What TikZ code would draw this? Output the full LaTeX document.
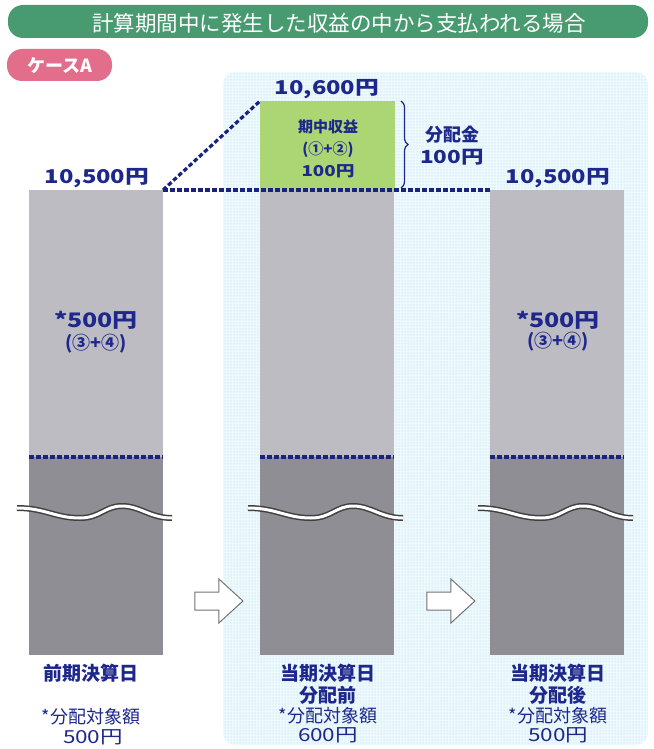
\documentclass[tikz,border=0pt]{standalone}
\usepackage{fontspec}
\setmainfont{Noto Sans CJK JP}
\usetikzlibrary{shapes.arrows,decorations.pathreplacing,patterns}
\definecolor{navy}{RGB}{30,40,140}
\definecolor{dashnavy}{RGB}{25,35,125}
\definecolor{bannergreen}{RGB}{72,155,112}
\definecolor{pillpink}{RGB}{226,110,140}
\definecolor{panelblue}{RGB}{234,250,253}
\definecolor{paneldot}{RGB}{205,200,240}
\definecolor{lightbar}{RGB}{188,188,194}
\definecolor{darkbar}{RGB}{142,142,148}
\definecolor{incgreen}{RGB}{172,214,115}
\newcommand\widen[1]{\scalebox{1.25}[1]{#1}}
\newcommand\fsz[1]{\fontsize{#1}{#1}\selectfont}
\begin{document}
\begin{tikzpicture}[x=1pt,y=-1pt,
  every node/.style={inner sep=0pt,outer sep=0pt},
  lightpart/.style={rectangle,fill=lightbar,anchor=north west,minimum width=134pt},
  darkpart/.style={rectangle,fill=darkbar,anchor=north west,minimum width=134pt},
  navytext/.style={text=navy,font=\fsz{19}\bfseries},
  smalltext/.style={text=navy,font=\fsz{18}},
  navydash/.style={draw=dashnavy,line width=3.2pt,dash pattern=on 4.5pt off 2.5pt},
  breakline/.style={line width=6pt,draw=black!75},
  breakfill/.style={line width=3pt,draw=white},
  hollowarrow/.style={single arrow,draw=black!55,line width=1pt,fill=white,
     minimum height=48pt,minimum width=43pt,inner xsep=0pt,inner ysep=8.5pt,
     single arrow head extend=13pt,single arrow tip angle=85},
]
\useasboundingbox (0,0) rectangle (653,749);
\fill[white] (0,0) rectangle (653,749);

% title banner
\node[rectangle,rounded corners=15pt,fill=bannergreen,minimum width=640pt,minimum height=33pt,anchor=north west] (banner) at (8,5) {};
\node[text=white,font=\fsz{21.5}] (title) at (339,23) {計算期間中に発生した収益の中から支払われる場合};

% case pill
\node[rectangle,rounded corners=15pt,fill=pillpink,minimum width=105pt,minimum height=32pt,anchor=north west] (pill) at (7,49) {};
\node[text=white,font=\fsz{18}\bfseries] (case) at (60,66) {ケースA};

% light blue panel
\node[rectangle,rounded corners=12pt,fill=panelblue,minimum width=425pt,minimum height=673pt,anchor=north west] (panel) at (223,72) {};
\fill[pattern=dots,pattern color=paneldot,rounded corners=12pt] (panel.north west) rectangle (panel.south east);

% bars
\node[lightpart,minimum height=267pt] (Ltop) at (29,190) {};
\node[darkpart,minimum height=198pt] (Lbot) at (Ltop.south west) {};
\node[rectangle,fill=incgreen,anchor=north west,minimum width=135pt,minimum height=89pt] (Minc) at (260,101) {};
\node[lightpart,minimum height=267pt] (Mtop) at (260,190) {};
\node[darkpart,minimum height=198pt] (Mbot) at (Mtop.south west) {};
\node[lightpart,minimum height=267pt] (Rtop) at (490,190) {};
\node[darkpart,minimum height=198pt] (Rbot) at (Rtop.south west) {};

% dashed boundary lines in bars
\draw[navydash] (Lbot.north west) -- (Lbot.north east);
\draw[navydash] (Mbot.north west) -- (Mbot.north east);
\draw[navydash] (Rbot.north west) -- (Rbot.north east);

% wavy breaks
\foreach \dx in {0,231,461}{
  \begin{scope}[xshift=\dx pt]
  \draw[breakline] (17,508) .. controls (45,508) and (55,518) .. (80,518) .. controls (100,518) and (105,506) .. (122,506) .. controls (140,506) and (150,518) .. (172,518);
  \draw[breakfill] (17,508) .. controls (45,508) and (55,518) .. (80,518) .. controls (100,518) and (105,506) .. (122,506) .. controls (140,506) and (150,518) .. (172,518);
  \end{scope}
}

% dashed guide lines
\draw[navydash] (Ltop.north east) -- (Minc.north west);
\draw[navydash] (Ltop.north east) -- (Rtop.north west);

% value labels
\node[navytext] (vL) at (97,178) {\widen{10,500円}};
\node[navytext] (vM) at (327,89) {\widen{10,600円}};
\node[navytext] (vR) at (558,178) {\widen{10,500円}};

% income box text
\node[text=navy,font=\fsz{15}\bfseries] (inc1) at (328,127) {期中収益};
\node[text=navy,font=\fsz{15}\bfseries] (inc2) at (328,150) {(①+②)};
\node[text=navy,font=\fsz{15}\bfseries] (inc3) at (328,171) {\widen{100円}};

% brace
\coordinate (brT) at (401,101);
\coordinate (brB) at (401,188);
\draw[navy,line width=1.2pt,decorate,decoration={brace,amplitude=7pt}] (brT) -- (brB);
\node[navytext,font=\fsz{18}\bfseries] (dist1) at (452,135) {分配金};
\node[navytext,font=\fsz{18}\bfseries] (dist2) at (452,157) {\widen{100円}};

% bar inner labels
\node[text=navy,font=\fsz{20}\bfseries] (aL1) at (96,320) {\widen{*500円}};
\node[text=navy,font=\fsz{18}\bfseries] (aL2) at (96,344) {(③+④)};
\node[text=navy,font=\fsz{20}\bfseries] (aR1) at (558,320) {\widen{*500円}};
\node[text=navy,font=\fsz{18}\bfseries] (aR2) at (558,342) {(③+④)};

% arrows
\node[hollowarrow] (arr1) at (214,601) {};
\node[hollowarrow] (arr2) at (446,601) {};

% bottom labels
\node[navytext] (bL1) at (91,673) {前期決算日};
\node[smalltext] (bL2) at (91,717) {*分配対象額};
\node[smalltext] (bL3) at (93,737) {\widen{500円}};

\node[navytext] (bM1) at (328,673) {当期決算日};
\node[navytext] (bM2) at (328,695) {分配前};
\node[smalltext] (bM3) at (328,716) {*分配対象額};
\node[smalltext] (bM4) at (328,735) {\widen{600円}};

\node[navytext] (bR1) at (558,673) {当期決算日};
\node[navytext] (bR2) at (558,695) {分配後};
\node[smalltext] (bR3) at (558,716) {*分配対象額};
\node[smalltext] (bR4) at (558,735) {\widen{500円}};
\end{tikzpicture}
\end{document}
